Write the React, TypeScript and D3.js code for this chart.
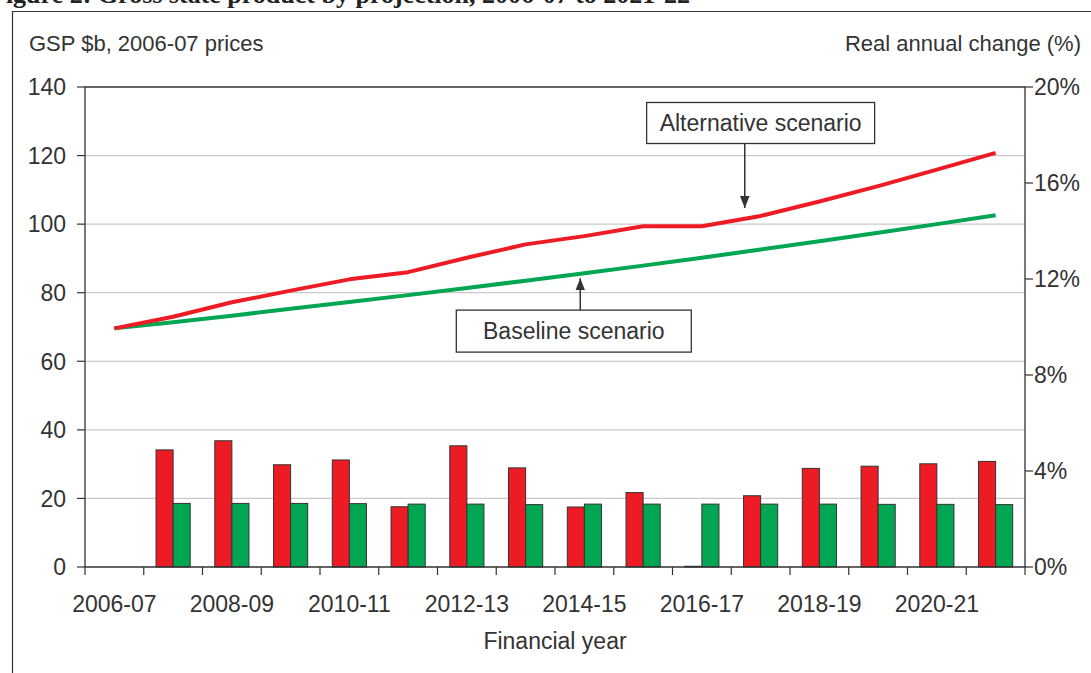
import { useMemo } from 'react';
import * as d3 from 'd3';

// Financial years on the category axis
const years = [
  '2006-07', '2007-08', '2008-09', '2009-10', '2010-11', '2011-12', '2012-13', '2013-14',
  '2014-15', '2015-16', '2016-17', '2017-18', '2018-19', '2019-20', '2020-21', '2021-22',
];

// GSP $b, 2006-07 prices (left axis, lines)
const altGsp = [69.6, 73.0, 77.2, 80.6, 83.9, 86.0, 90.2, 94.1, 96.5, 99.4, 99.4, 102.4, 106.6, 111.1, 115.9, 120.8];
const baseGsp = [69.6, 71.4, 73.3, 75.3, 77.3, 79.3, 81.4, 83.5, 85.7, 87.9, 90.2, 92.6, 95.0, 97.5, 100.0, 102.6];

// Real annual change % (right axis, bars)
const altChange: (number | null)[] = [null, 4.88, 5.26, 4.26, 4.46, 2.51, 5.05, 4.13, 2.5, 3.1, 0.03, 2.97, 4.11, 4.2, 4.3, 4.4];
const baseChange: (number | null)[] = [null, 2.65, 2.65, 2.65, 2.64, 2.62, 2.62, 2.6, 2.62, 2.62, 2.62, 2.62, 2.62, 2.61, 2.61, 2.6];

const leftTicks = [0, 20, 40, 60, 80, 100, 120, 140];
const rightTicks = [0, 4, 8, 12, 16, 20];
const labelYears = years.filter((_, i) => i % 2 === 0);

const RED = '#ed1c24';
const GREEN = '#00a651';
const INK = '#333333';
const GRID = '#cdc8c8';
const FONT = '"Liberation Sans", Arial, Helvetica, sans-serif';

const W = 1091;
const H = 673;
const margin = { left: 85, right: 66, top: 87, bottom: 106 };

export default function App() {
  const x = useMemo(
    () => d3.scaleBand<string>().domain(years).range([margin.left, W - margin.right]).padding(0),
    []
  );
  const xs = useMemo(
    () => d3.scaleBand<string>().domain(['alt', 'base']).range([0, x.bandwidth()]).paddingInner(0).paddingOuter(0.72),
    [x]
  );
  const y = d3.scaleLinear().domain([0, 140]).range([H - margin.bottom, margin.top]);
  const y2 = d3.scaleLinear().domain([0, 20]).range([H - margin.bottom, margin.top]);
  // continuous position in "band units" for annotation arrows
  const xPos = d3.scaleLinear().domain([0, years.length]).range([margin.left, W - margin.right]);

  const line = d3
    .line<number>()
    .x((_, i) => (x(years[i]) || 0) + x.bandwidth() / 2)
    .y((d) => y(d));

  const x0 = margin.left;
  const x1 = W - margin.right;
  const yBottom = y(0);
  const yTop = y(140);

  const notes = [
    { text: 'Alternative scenario', boxX: 11.5, boxY: 129.5, w: 228, h: 41, arrowX: 11.23, tip: 104.7, up: false },
    { text: 'Baseline scenario', boxX: 8.32, boxY: 68.8, w: 235, h: 42, arrowX: 8.43, tip: 84.2, up: true },
  ];

  return (
    <svg
      width={W}
      height={H}
      style={{ position: 'absolute', left: 0, top: 0, background: '#fff' }}
      fontFamily={FONT}
    >
      <defs>
        <marker id="arrow" viewBox="0 0 10 10" refX="10" refY="5" markerWidth="8" markerHeight="8" orient="auto">
          <path d="M0,1 L10,5 L0,9 z" fill={INK} />
        </marker>
      </defs>

      {/* cropped figure title at the very top */}
      <text x={-10} y={3} fontFamily='"Liberation Serif", "DejaVu Serif", serif' fontWeight="bold" fontSize={26} fill="#222">
        Figure 2: Gross state product by projection, 2006-07 to 2021-22
      </text>

      {/* outer frame */}
      <path d={`M12.5,${H} V11.5 H${W}`} fill="none" stroke={INK} strokeWidth={1.2} />

      {/* axis titles */}
      <text x={29} y={43} dominantBaseline="central" fontSize={22} fill={INK}>
        GSP $b, 2006-07 prices
      </text>
      <text x={1081} y={43} dominantBaseline="central" textAnchor="end" fontSize={22} fill={INK}>
        Real annual change (%)
      </text>

      {/* gridlines */}
      {leftTicks.filter((t) => t > 0 && t < 140).map((t) => (
        <line key={t} x1={x0} x2={x1} y1={y(t)} y2={y(t)} stroke={GRID} strokeWidth={1.2} />
      ))}

      {/* bars */}
      {years.map((yr, i) => (
        <g key={yr}>
          {altChange[i] != null && (
            <rect
              x={(x(yr) || 0) + (xs('alt') || 0)}
              y={y2(altChange[i] as number)}
              width={xs.bandwidth()}
              height={yBottom - y2(altChange[i] as number)}
              fill={RED}
              stroke={INK}
              strokeWidth={1}
            />
          )}
          {baseChange[i] != null && (
            <rect
              x={(x(yr) || 0) + (xs('base') || 0)}
              y={y2(baseChange[i] as number)}
              width={xs.bandwidth()}
              height={yBottom - y2(baseChange[i] as number)}
              fill={GREEN}
              stroke={INK}
              strokeWidth={1}
            />
          )}
        </g>
      ))}

      {/* lines */}
      <path d={line(baseGsp) || ''} fill="none" stroke={GREEN} strokeWidth={4} strokeLinejoin="round" />
      <path d={line(altGsp) || ''} fill="none" stroke={RED} strokeWidth={4} strokeLinejoin="round" />

      {/* plot frame: left axis, top, right axis, bottom */}
      <path d={`M${x0},${yBottom} V${yTop} H${x1} V${yBottom} Z`} fill="none" stroke={INK} strokeWidth={1.3} />

      {/* left axis ticks + labels */}
      {leftTicks.map((t) => (
        <g key={t}>
          <line x1={x0 - 8} x2={x0} y1={y(t)} y2={y(t)} stroke={INK} strokeWidth={1.2} />
          <text x={66} y={y(t)} dy="0.36em" textAnchor="end" fontSize={23} fill={INK}>
            {t}
          </text>
        </g>
      ))}

      {/* right axis ticks + labels */}
      {rightTicks.map((t) => (
        <g key={t}>
          <line x1={x1} x2={x1 + 8} y1={y2(t)} y2={y2(t)} stroke={INK} strokeWidth={1.2} />
          <text x={x1 + 9} y={y2(t)} dy="0.36em" fontSize={23} fill={INK}>
            {t}%
          </text>
        </g>
      ))}

      {/* x axis ticks at band boundaries */}
      {[...years.map((yr) => x(yr) || 0), x1].map((px, i) => (
        <line key={i} x1={px} x2={px} y1={yBottom} y2={yBottom + 8} stroke={INK} strokeWidth={1.2} />
      ))}
      {labelYears.map((yr) => (
        <text
          key={yr}
          x={(x(yr) || 0) + x.bandwidth() / 2}
          y={604}
          dominantBaseline="central"
          textAnchor="middle"
          fontSize={23}
          fill={INK}
        >
          {yr}
        </text>
      ))}
      <text x={(x0 + x1) / 2} y={641} dominantBaseline="central" textAnchor="middle" fontSize={23} fill={INK}>
        Financial year
      </text>

      {/* scenario annotations */}
      {notes.map((n) => {
        const cx = xPos(n.boxX);
        const cy = y(n.boxY);
        const ax = xPos(n.arrowX);
        const start = n.up ? cy - n.h / 2 : cy + n.h / 2;
        return (
          <g key={n.text}>
            <rect x={cx - n.w / 2} y={cy - n.h / 2} width={n.w} height={n.h} fill="#fff" stroke={INK} strokeWidth={1.3} />
            <text x={cx} y={cy} dominantBaseline="central" textAnchor="middle" fontSize={23} fill={INK}>
              {n.text}
            </text>
            <line x1={ax} x2={ax} y1={start} y2={y(n.tip)} stroke={INK} strokeWidth={1.5} markerEnd="url(#arrow)" />
          </g>
        );
      })}
    </svg>
  );
}
